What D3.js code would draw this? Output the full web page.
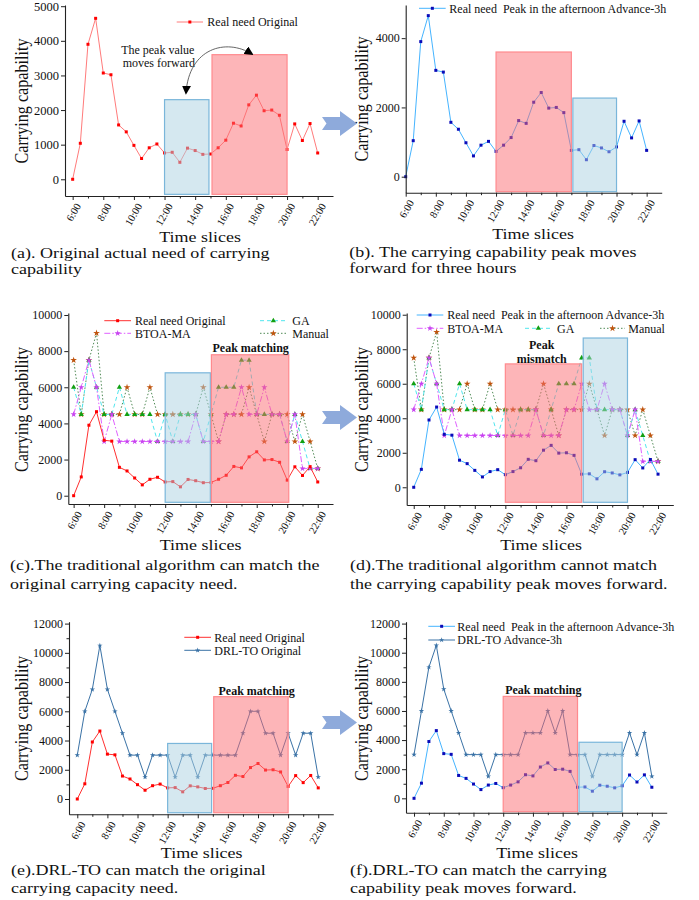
<!DOCTYPE html>
<html><head><meta charset="utf-8">
<script src="https://cdn.jsdelivr.net/npm/d3@7"></script>
<style>
body{margin:0;background:#fff}
svg{display:block}
text{font-family:"Liberation Serif","Times New Roman",serif;fill:#111}
</style>
</head><body>
<svg id="chart" width="699" height="900"></svg>
<script>
// ---------------- DATA ----------------
const timeLabels = ["6:00","6:30","7:00","7:30","8:00","8:30","9:00","9:30","10:00","10:30","11:00","11:30",
  "12:00","12:30","13:00","13:30","14:00","14:30","15:00","15:30","16:00","16:30","17:00","17:30",
  "18:00","18:30","19:00","19:30","20:00","20:30","21:00","21:30","22:00"];
const xTickLabels = ["6:00","8:00","10:00","12:00","14:00","16:00","18:00","20:00","22:00"];
const xMinorLabels = ["7:00","9:00","11:00","13:00","15:00","17:00","19:00","21:00"];

const realOriginal = [0,1040,3900,4650,3070,3020,1570,1370,980,600,910,1020,760,780,490,900,830,720,730,910,1130,1620,1540,2150,2430,1980,2000,1850,860,1600,1120,1610,760];
const realAdvance  = [0,1040,3900,4650,3070,3020,1570,1370,980,600,910,1020,730,910,1130,1620,1540,2150,2430,1980,2000,1850,760,780,490,900,830,720,860,1600,1120,1610,760];
const btoaMA = [4500,6000,7500,6000,3000,4500,3000,3000,3000,3000,3000,3000,3000,3000,3000,3000,4500,3000,3000,3000,4500,4500,6000,4500,4500,6000,4500,4500,3000,4500,1500,1500,1500];
const ga     = [6000,4500,7500,6000,4500,4500,6000,4500,4500,4500,4500,3000,4500,3000,4500,4500,4500,3000,4500,6000,6000,6000,7500,7500,4500,4500,4500,4500,3000,4500,3000,1500,1500];
const manual = [7500,4500,7500,9000,4500,4500,4500,6000,4500,4500,6000,4500,4500,4500,4500,4500,4500,6000,4500,3000,4500,4500,4500,6000,4500,3000,4500,4500,4500,3000,4500,3000,1500];
const drlOriginal = [3000,6000,7500,10500,7500,6000,4500,3000,3000,1500,3000,3000,3000,1500,3000,3000,1500,3000,3000,3000,3000,3000,4500,6000,6000,4500,4500,3000,4500,3000,4500,4500,1500];
const drlAdvance  = [3000,6000,9000,10500,7500,6000,4500,3000,3000,3000,1500,3000,3000,3000,3000,4500,4500,4500,6000,4500,6000,3000,3000,3000,1500,3000,3000,3000,3000,4500,3000,4500,1500];

const yTicksA = [0,1000,2000,3000,4000,5000];
const yTicksB = [0,2000,4000];
const yTicksCD = [0,2000,4000,6000,8000,10000];
const yTicksEF = [0,2000,4000,6000,8000,10000,12000];
const yMinorEF = [1000,3000,5000,7000,9000,11000];

const legendNames = {
  realO: "Real need Original",
  realA: "Real need  Peak in the afternoon Advance-3h",
  btoa: "BTOA-MA", ga: "GA", manual: "Manual",
  drlO: "DRL-TO Original", drlA: "DRL-TO Advance-3h"
};
const captions = {
  a: ["(a). Original actual need of carrying", "capability"],
  b: ["(b). The carrying capability peak moves", "forward for three hours"],
  c: ["(c).The traditional algorithm can match the", "original carrying capacity need."],
  d: ["(d).The traditional algorithm cannot match", "the carrying capability peak moves forward."],
  e: ["(e).DRL-TO can match the original", "carrying capacity need."],
  f: ["(f).DRL-TO can match the carrying", "capability peak moves forward."]
};

// ---------------- HELPERS ----------------
const hourOf = s => { const [h,m] = s.split(":").map(Number); return h + m/60; };
const svg = d3.select("#chart");
const FONT = '"Liberation Serif","Times New Roman",serif';
const VS = 0.86; // vertical squeeze of the original figure's text

const styles = {
  realO_a: {color:"#ff7b7b", marker:"#ff0000", symbol:d3.symbolSquare, size:9},
  realO:   {color:"#ff3030", marker:"#ff0000", symbol:d3.symbolSquare, size:9},
  realA:   {color:"#45b4ff", marker:"#0a0ab8", symbol:d3.symbolSquare, size:9},
  btoa:    {color:"#e060ff", marker:"#c844f0", symbol:d3.symbolStar, size:12, dash:"6,2,1.5,2"},
  ga:      {color:"#4fe6ee", marker:"#12a012", symbol:d3.symbolTriangle, size:12, dash:"4,3"},
  manual:  {color:"#4f8a55", marker:"#c0540e", symbol:d3.symbolStar, size:14, dash:"1.5,2"},
  drl:     {color:"#3a72a6", marker:"#3a72a6", symbol:d3.symbolStar, size:9}
};

function drawPanel(p) {
  const g = svg.append("g");
  const x = d3.scaleLinear().domain(p.xDomain).range([p.left, p.right]);
  const y = d3.scaleLinear().domain(p.yDomain).range([p.bottom, p.top]);

  // series
  p.series.forEach(s => {
    const st = styles[s.style];
    const pts = s.values.map((v,i) => [hourOf(timeLabels[i]), v]);
    g.append("path")
      .attr("d", d3.line().x(d => x(d[0])).y(d => y(d[1]))(pts))
      .attr("fill","none").attr("stroke", st.color).attr("stroke-width", 1)
      .attr("stroke-dasharray", st.dash || null);
    g.append("g").selectAll("path").data(pts).join("path")
      .attr("transform", d => `translate(${x(d[0])},${y(d[1])})`)
      .attr("d", d3.symbol(st.symbol, st.size)())
      .attr("fill", st.marker);
  });

  // shaded regions (drawn on top, translucent)
  p.rects.forEach(r => {
    const red = r.kind === "red";
    g.append("rect")
      .attr("x", x(r.x0)).attr("y", y(r.y1))
      .attr("width", x(r.x1) - x(r.x0)).attr("height", y(r.y0) - y(r.y1))
      .attr("fill", red ? "rgb(252,108,114)" : "rgb(172,210,226)")
      .attr("fill-opacity", 0.5)
      .attr("stroke", red ? "#ff8a8e" : "#7ab6da").attr("stroke-width", 1.2);
  });

  // axes
  const xAxis = d3.axisBottom(x).tickValues(xTickLabels.map(hourOf))
    .tickFormat((d,i) => xTickLabels[i]).tickSize(4).tickSizeOuter(0);
  const gx = g.append("g").attr("transform", `translate(0,${p.bottom})`).call(xAxis);
  gx.selectAll(".tick text")
    .attr("x", 0).attr("y", 0).attr("dy", "0.35em")
    .attr("text-anchor", "end")
    .attr("transform", "translate(5,8) rotate(-60)")
    .style("font-family", FONT).style("font-size", "10.5px").attr("fill", "#111");
  g.append("g").attr("transform", `translate(0,${p.bottom})`)
    .call(d3.axisBottom(x).tickValues(xMinorLabels.map(hourOf)).tickFormat("").tickSize(2.5).tickSizeOuter(0))
    .select(".domain").remove();

  const yAxis = d3.axisLeft(y).tickValues(p.yTicks).tickFormat(d3.format("d")).tickSize(4).tickPadding(2).tickSizeOuter(0);
  const gy = g.append("g").attr("transform", `translate(${p.left},0)`).call(yAxis);
  gy.selectAll(".tick text").style("font-family", FONT).style("font-size", p.yFont + "px").attr("fill", "#111");
  if (p.yMinor) {
    g.append("g").attr("transform", `translate(${p.left},0)`)
      .call(d3.axisLeft(y).tickValues(p.yMinor).tickFormat("").tickSize(2.5).tickSizeOuter(0))
      .select(".domain").remove();
  }
  g.selectAll(".domain").attr("stroke", "#222").attr("stroke-width", 1.1);
  g.selectAll(".tick line").attr("stroke", "#222");

  // y label
  g.append("text")
    .attr("transform", `translate(${p.yLabelX},${p.yLabelY}) rotate(-90)`)
    .attr("text-anchor", "middle")
    .attr("textLength", 125).attr("lengthAdjust", "spacingAndGlyphs")
    .style("font-size", "18px").text("Carrying capability");

  // x label
  g.append("text").attr("transform", `translate(${p.xLabelX},${p.xLabelY}) scale(1,${VS})`)
    .attr("text-anchor", "middle").style("font-size", "18px").text("Time slices");

  // caption
  p.caption.forEach((line, i) => {
    g.append("text").attr("transform", `translate(${p.capX},${p.capY + i * p.capGap}) scale(1,${VS})`)
      .style("font-size", "18px").text(line);
  });

  // legend
  p.legend.forEach(l => {
    const st = styles[l.style];
    g.append("line").attr("x1", l.x1).attr("x2", l.x2).attr("y1", l.y).attr("y2", l.y)
      .attr("stroke", st.color).attr("stroke-width", 1).attr("stroke-dasharray", st.dash || null);
    g.append("path").attr("transform", `translate(${(l.x1 + l.x2) / 2},${l.y})`)
      .attr("d", d3.symbol(st.symbol, st.size)()).attr("fill", st.marker);
    g.append("text").attr("x", l.tx).attr("y", l.y).attr("dy", "0.35em")
      .style("font-size", "12px").style("white-space", "pre").text(l.text);
  });

  // annotations
  (p.notes || []).forEach(n => {
    g.append("text").attr("x", n.x).attr("y", n.y).attr("dy", "0.35em")
      .attr("text-anchor", "middle").style("font-size", "12px")
      .style("font-weight", n.bold ? "bold" : "normal").text(n.text);
  });
  return {g, x, y};
}

// ---------------- PANELS ----------------
drawPanel({
  left: 65, right: 333, top: 5, bottom: 196, xDomain: [5.5, 23], yDomain: [-483, 5035],
  yTicks: yTicksA, yFont: 12.5,
  series: [{values: realOriginal, style: "realO_a"}],
  rects: [{kind:"blue", x0:12, x1:14.9, y0:-435, y1:2300}, {kind:"red", x0:15.1, x1:20, y0:-435, y1:3600}],
  yLabelX: 28, yLabelY: 101, xLabelX: 200, xLabelY: 241.5,
  caption: captions.a, capX: 11, capY: 258, capGap: 16,
  legend: [{style:"realO_a", x1:176.7, x2:203, y:22, tx:207.3, text:legendNames.realO}],
  notes: [{x:157.8, y:50, text:"The peak value"}, {x:158.8, y:62.3, text:"moves forward"}]
});

drawPanel({
  left: 405.7, right: 661.7, top: 5, bottom: 192.7, xDomain: [6, 23], yDomain: [-462, 4957],
  yTicks: yTicksB, yFont: 12,
  series: [{values: realAdvance, style: "realA"}],
  rects: [{kind:"red", x0:12, x1:17, y0:-433, y1:3600}, {kind:"blue", x0:17.1, x1:20, y0:-433, y1:2270}],
  yLabelX: 368, yLabelY: 99, xLabelX: 533, xLabelY: 239,
  caption: captions.b, capX: 349.3, capY: 257, capGap: 16,
  legend: [{style:"realA", x1:419, x2:445.7, y:8.3, tx:449.3, text:legendNames.realA}]
});

drawPanel({
  left: 68.3, right: 333, top: 313, bottom: 504, xDomain: [5.65, 23], yDomain: [-459, 10110],
  yTicks: yTicksCD, yFont: 12,
  series: [{values: manual, style:"manual"}, {values: ga, style:"ga"}, {values: btoaMA, style:"btoa"}, {values: realOriginal, style:"realO"}],
  rects: [{kind:"blue", x0:12, x1:14.96, y0:-365, y1:6800}, {kind:"red", x0:15.03, x1:20.1, y0:-365, y1:7800}],
  yLabelX: 28, yLabelY: 409.5, xLabelX: 200.5, xLabelY: 550,
  caption: captions.c, capX: 10, capY: 569.5, capGap: 19.5,
  legend: [
    {style:"realO", x1:104.3, x2:131, y:320.7, tx:135, text:legendNames.realO},
    {style:"ga", x1:260, x2:286.7, y:320.7, tx:292.3, text:legendNames.ga},
    {style:"btoa", x1:104.3, x2:131, y:333.3, tx:135, text:legendNames.btoa},
    {style:"manual", x1:260, x2:286.7, y:333.3, tx:292.3, text:legendNames.manual}
  ],
  notes: [{x:250.7, y:347.7, text:"Peak matching", bold:true}]
});

drawPanel({
  left: 406.7, right: 673.3, top: 313, bottom: 505, xDomain: [5.54, 23], yDomain: [-1027, 10100],
  yTicks: yTicksCD, yFont: 12,
  series: [{values: manual, style:"manual"}, {values: ga, style:"ga"}, {values: btoaMA, style:"btoa"}, {values: realAdvance, style:"realA"}],
  rects: [{kind:"red", x0:12, x1:17, y0:-870, y1:7150}, {kind:"blue", x0:17.1, x1:20, y0:-870, y1:8650}],
  yLabelX: 368, yLabelY: 409.5, xLabelX: 541, xLabelY: 550,
  caption: captions.d, capX: 350, capY: 569.5, capGap: 19.5,
  legend: [
    {style:"realA", x1:416.7, x2:443.3, y:315, tx:447.3, text:legendNames.realA},
    {style:"btoa", x1:416.7, x2:443.3, y:328.3, tx:447.3, text:legendNames.btoa},
    {style:"ga", x1:525, x2:551.7, y:328.3, tx:557, text:legendNames.ga},
    {style:"manual", x1:600, x2:625, y:328.3, tx:628.3, text:legendNames.manual}
  ],
  notes: [{x:541.7, y:344.3, text:"Peak", bold:true}, {x:541.7, y:358.3, text:"mismatch", bold:true}]
});

drawPanel({
  left: 69, right: 333.3, top: 621.7, bottom: 814.3, xDomain: [5.45, 23], yDomain: [-1047, 12130],
  yTicks: yTicksEF, yMinor: yMinorEF, yFont: 12,
  series: [{values: drlOriginal, style:"drl"}, {values: realOriginal, style:"realO"}],
  rects: [{kind:"blue", x0:12, x1:14.92, y0:-940, y1:3800}, {kind:"red", x0:15.06, x1:20, y0:-940, y1:7000}],
  yLabelX: 28, yLabelY: 718.5, xLabelX: 201.7, xLabelY: 857.5,
  caption: captions.e, capX: 11, capY: 874.5, capGap: 18,
  legend: [
    {style:"realO", x1:184.3, x2:211, y:637.3, tx:214.3, text:legendNames.realO},
    {style:"drl", x1:184.3, x2:211, y:650.3, tx:214.3, text:legendNames.drlO}
  ],
  notes: [{x:256.7, y:691, text:"Peak matching", bold:true}]
});

drawPanel({
  left: 406, right: 666.7, top: 621.7, bottom: 812.7, xDomain: [5.46, 23], yDomain: [-988, 12130],
  yTicks: yTicksEF, yMinor: yMinorEF, yFont: 12,
  series: [{values: drlAdvance, style:"drl"}, {values: realAdvance, style:"realA"}],
  rects: [{kind:"red", x0:12, x1:17, y0:-920, y1:7000}, {kind:"blue", x0:17.1, x1:20, y0:-920, y1:3850}],
  yLabelX: 368, yLabelY: 718.5, xLabelX: 537, xLabelY: 857.5,
  caption: captions.f, capX: 350, capY: 874.5, capGap: 18,
  legend: [
    {style:"realA", x1:428.3, x2:455, y:626.3, tx:457.3, text:legendNames.realA},
    {style:"drl", x1:428.3, x2:455, y:640, tx:457.3, text:legendNames.drlA}
  ],
  notes: [{x:543.3, y:689.3, text:"Peak matching", bold:true}]
});

// curved double-headed arrow in panel (a)
const defs = svg.append("defs");
defs.append("marker").attr("id","ah").attr("viewBox","0 0 10 10").attr("refX",8).attr("refY",5)
  .attr("markerWidth",9).attr("markerHeight",9).attr("markerUnits","userSpaceOnUse")
  .attr("orient","auto-start-reverse")
  .append("path").attr("d","M0,0 L10,5 L0,10 Z").attr("fill","#000");
svg.append("path").attr("d","M252,54 C226,38 189,48 186,93")
  .attr("fill","none").attr("stroke","#555").attr("stroke-width",0.9)
  .attr("marker-start","url(#ah)").attr("marker-end","url(#ah)");

// block arrows between panels
[123.5, 417.5, 722.5].forEach(yc => {
  svg.append("path")
    .attr("d", `M322,${yc-6.5} L340,${yc-6.5} L340,${yc-12.5} L357,${yc} L340,${yc+12.5} L340,${yc+6.5} L322,${yc+6.5} L326.5,${yc} Z`)
    .attr("fill", "#8eaadb");
});
</script>
</body></html>
